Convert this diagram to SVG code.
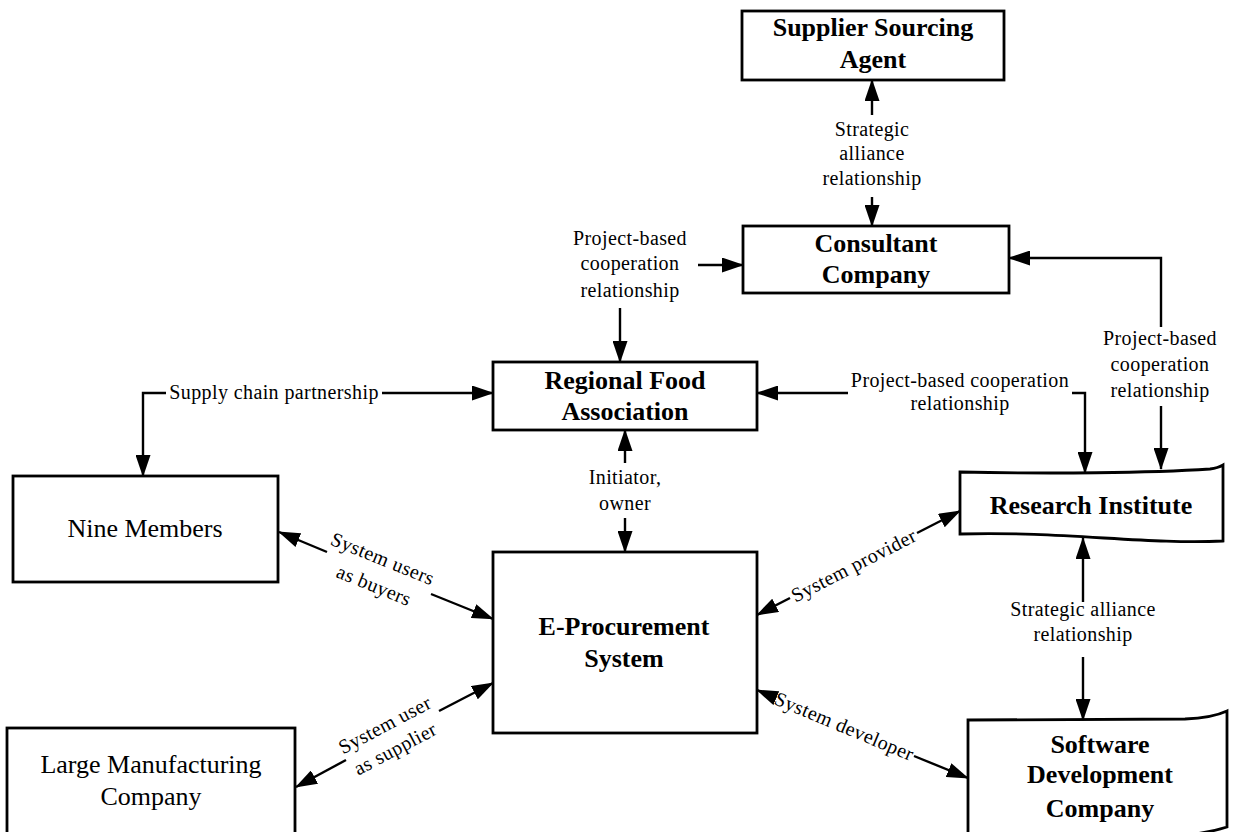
<svg xmlns="http://www.w3.org/2000/svg" width="1238" height="832" viewBox="0 0 1238 832">
  <defs>
    <marker id="ah" viewBox="0 0 22 15" refX="21" refY="7.5" markerWidth="22" markerHeight="15" markerUnits="userSpaceOnUse" orient="auto">
      <path d="M0,0 L22,7.5 L0,15 Z" fill="#000"/>
    </marker>
    <style>
      .box { fill: #fff; stroke: #000; stroke-width: 2.8; }
      .nb { font-family: "Liberation Serif", "Times New Roman", serif; font-size: 26px; font-weight: bold; text-anchor: middle; fill: #000; }
      .nr { font-family: "Liberation Serif", "Times New Roman", serif; font-size: 26px; text-anchor: middle; fill: #000; }
      .el { font-family: "Liberation Serif", "Times New Roman", serif; font-size: 20px; letter-spacing: 0.4px; text-anchor: middle; fill: #000; }
      .cn { fill: none; stroke: #000; stroke-width: 2.4; marker-end: url(#ah); }
    </style>
  </defs>
  <rect width="1238" height="832" fill="#fff"/>

  <!-- nodes -->
  <g id="supplier-sourcing-agent">
    <rect class="box" x="742" y="11" width="262" height="69"/>
    <text class="nb" x="873" y="36">Supplier Sourcing</text>
    <text class="nb" x="873" y="68">Agent</text>
  </g>
  <g id="consultant-company">
    <rect class="box" x="743" y="226" width="266" height="67"/>
    <text class="nb" x="876" y="252">Consultant</text>
    <text class="nb" x="876" y="283">Company</text>
  </g>
  <g id="regional-food-association">
    <rect class="box" x="493" y="362" width="264" height="68"/>
    <text class="nb" x="625" y="389">Regional Food</text>
    <text class="nb" x="625" y="420">Association</text>
  </g>
  <g id="nine-members">
    <rect class="box" x="13" y="476" width="265" height="106"/>
    <text class="nr" x="145" y="537">Nine Members</text>
  </g>
  <g id="e-procurement-system">
    <rect class="box" x="493" y="552" width="264" height="181"/>
    <text class="nb" x="624" y="635">E-Procurement</text>
    <text class="nb" x="624" y="667">System</text>
  </g>
  <g id="large-manufacturing-company">
    <rect class="box" x="7" y="728" width="288" height="124"/>
    <text class="nr" x="151" y="773">Large Manufacturing</text>
    <text class="nr" x="151" y="805">Company</text>
  </g>
  <g id="research-institute">
    <path class="box" d="M960,472 C1050,474 1150,473 1210,469 Q1218,468 1223,465 L1223,541 C1150,545 1060,531 960,534 Z"/>
    <text class="nb" x="1091" y="514">Research Institute</text>
  </g>
  <g id="software-development-company">
    <path class="box" d="M968,720 L1185,719 Q1212,718 1227,711 L1227,827 Q1205,834 1175,836 L968,840 Z"/>
    <text class="nb" x="1100" y="753">Software</text>
    <text class="nb" x="1100" y="783">Development</text>
    <text class="nb" x="1100" y="817">Company</text>
  </g>

  <!-- connectors and their labels -->
  <g id="connectors">
    <!-- Supplier Sourcing Agent / Consultant Company -->
    <path class="cn" d="M872,115 L872,80"/>
    <path class="cn" d="M872,197 L872,226"/>
    <text class="el" x="872" y="136">Strategic</text>
    <text class="el" x="872" y="160">alliance</text>
    <text class="el" x="872" y="185">relationship</text>

    <!-- Consultant Company / Regional Food Association -->
    <path class="cn" d="M698,265 L743,265"/>
    <path class="cn" d="M620,308 L620,362"/>
    <text class="el" x="630" y="245">Project-based</text>
    <text class="el" x="630" y="270">cooperation</text>
    <text class="el" x="630" y="297">relationship</text>

    <!-- Consultant Company / Research Institute -->
    <path class="cn" d="M1161,327 L1161,258 L1009,258"/>
    <path class="cn" d="M1161,406 L1161,469"/>
    <text class="el" x="1160" y="345">Project-based</text>
    <text class="el" x="1160" y="371">cooperation</text>
    <text class="el" x="1160" y="397">relationship</text>

    <!-- Regional Food Association / Research Institute -->
    <path class="cn" d="M848,393 L757,393"/>
    <path class="cn" d="M1072,393 L1085,393 L1085,473"/>
    <text class="el" x="960" y="387">Project-based cooperation</text>
    <text class="el" x="960" y="410">relationship</text>

    <!-- Regional Food Association / Nine Members -->
    <path class="cn" d="M166,393 L143,393 L143,476"/>
    <path class="cn" d="M382,393 L493,393"/>
    <text class="el" x="274" y="399">Supply chain partnership</text>

    <!-- Regional Food Association / E-Procurement System -->
    <path class="cn" d="M625,463 L625,430"/>
    <path class="cn" d="M625,518 L625,552"/>
    <text class="el" x="625" y="484">Initiator,</text>
    <text class="el" x="625" y="510">owner</text>

    <!-- Research Institute / Software Development Company -->
    <path class="cn" d="M1083,602 L1083,538"/>
    <path class="cn" d="M1083,657 L1083,720"/>
    <text class="el" x="1083" y="616">Strategic alliance</text>
    <text class="el" x="1083" y="641">relationship</text>

    <!-- Nine Members / E-Procurement System -->
    <path class="cn" d="M327,552 L279,532"/>
    <path class="cn" d="M431,594 L493,619"/>
    <g transform="translate(379,573) rotate(22.1)">
      <text class="el" x="-2" y="-8">System users</text>
      <text class="el" x="0" y="20">as buyers</text>
    </g>

    <!-- Large Manufacturing Company / E-Procurement System -->
    <path class="cn" d="M346,760 L296,787"/>
    <path class="cn" d="M439,711 L493,683"/>
    <g transform="translate(393,736) rotate(-27.8)">
      <text class="el" x="-2" y="-7">System user</text>
      <text class="el" x="-4" y="19">as supplier</text>
    </g>

    <!-- E-Procurement System / Research Institute -->
    <path class="cn" d="M790,598 L757,615"/>
    <path class="cn" d="M917,533 L960,511"/>
    <g transform="translate(854,566) rotate(-27.1)">
      <text class="el" x="0" y="6">System provider</text>
    </g>

    <!-- E-Procurement System / Software Development Company -->
    <path class="cn" d="M776,698 L757,690"/>
    <path class="cn" d="M914,756 L968,778"/>
    <g transform="translate(844,727) rotate(22.7)">
      <text class="el" x="0" y="6">System developer</text>
    </g>
  </g>
</svg>
